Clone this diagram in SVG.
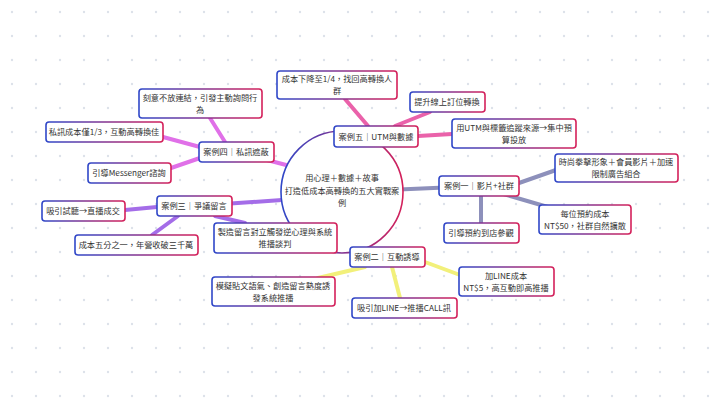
<svg xmlns="http://www.w3.org/2000/svg" width="720" height="400" viewBox="0 0 720 400">
<defs>
<pattern id="dots" width="24" height="24" patternUnits="userSpaceOnUse"><circle cx="12" cy="12" r="1.2" fill="#dde2ea"/></pattern>
<linearGradient id="bd" x1="0" y1="0" x2="1" y2="0"><stop offset="0" stop-color="#2f47c8"/><stop offset="1" stop-color="#d4205a"/></linearGradient>
<style>
.n{fill:#fff;stroke:url(#bd);stroke-width:1.6}
.t{font-family:"Noto Sans CJK TC","Noto Sans CJK SC",sans-serif;font-size:8.2px;fill:#333;text-anchor:middle}
.c{fill:none;stroke-linecap:round}
</style>
</defs>
<rect width="720" height="400" fill="#fff"/>
<rect width="720" height="400" fill="url(#dots)"/>
<g id="connectors">
<g class="c" stroke="#8d90bb" stroke-width="4"><line x1="342" y1="192" x2="479" y2="186"/><line x1="519" y1="183" x2="556" y2="170"/><line x1="500" y1="193" x2="565" y2="212"/><line x1="481" y1="196" x2="481" y2="223"/></g>
<g class="c" stroke="#ea62aa" stroke-width="4"><line x1="342" y1="192" x2="376" y2="137"/><line x1="368" y1="126" x2="345" y2="99"/><line x1="395" y1="126" x2="430" y2="112"/><line x1="418" y1="136" x2="452" y2="134"/></g>
<g class="c" stroke="#e070e8" stroke-width="4"><line x1="290" y1="166" x2="236" y2="152"/><line x1="225" y1="142" x2="210" y2="118"/><line x1="200" y1="147" x2="163" y2="137"/><line x1="200" y1="158" x2="171" y2="168"/></g>
<g class="c" stroke="#a46de8" stroke-width="4"><line x1="282" y1="200" x2="194" y2="206"/><line x1="157" y1="207" x2="125" y2="210"/><line x1="178" y1="216" x2="152" y2="235"/><line x1="215" y1="216" x2="245" y2="223"/></g>
<g class="c" stroke="#f2f07a" stroke-width="4"><line x1="365" y1="267" x2="318" y2="278"/><line x1="392" y1="267" x2="400" y2="298"/><line x1="425" y1="262" x2="460" y2="275"/></g>
</g>
<g id="center"><circle cx="342" cy="192" r="61" class="n"/>
<text class="t" x="342" y="181" font-size="9.5">用心理＋數據＋故事</text><text class="t" x="342" y="194" font-size="9.5">打造低成本高轉換的五大實戰案</text><text class="t" x="342" y="206" font-size="9.5">例</text></g>
<g id="case5"><rect class="n" x="334" y="126" width="84" height="21" rx="3"/><text class="t" x="376" y="140">案例五｜UTM與數據</text></g>
<g id="c5a"><rect class="n" x="277" y="71" width="120" height="28" rx="3"/><text class="t" x="337" y="82">成本下降至1/4，找回高轉換人</text><text class="t" x="337" y="94">群</text></g>
<g id="c5b"><rect class="n" x="410" y="92" width="75" height="20" rx="3"/><text class="t" x="447" y="105">提升線上訂位轉換</text></g>
<g id="c5c"><rect class="n" x="452" y="119" width="124" height="29" rx="3"/><text class="t" x="514" y="131">用UTM與標籤追蹤來源→集中預</text><text class="t" x="514" y="143">算投放</text></g>
<g id="case1"><rect class="n" x="439" y="176" width="80" height="20" rx="3"/><text class="t" x="479" y="189">案例一｜影片+社群</text></g>
<g id="c1a"><rect class="n" x="555" y="154" width="123" height="28" rx="3"/><text class="t" x="616" y="165">時尚拳擊形象＋會員影片＋加速</text><text class="t" x="616" y="177">限制廣告組合</text></g>
<g id="c1b"><rect class="n" x="539" y="205" width="92" height="29" rx="3"/><text class="t" x="585" y="217">每位預約成本</text><text class="t" x="585" y="229">NT$50，社群自然擴散</text></g>
<g id="c1c"><rect class="n" x="444" y="223" width="75" height="20" rx="3"/><text class="t" x="481" y="236">引導預約到店參觀</text></g>
<g id="case2"><rect class="n" x="350" y="247" width="75" height="20" rx="3"/><text class="t" x="387" y="260">案例二｜互動誘導</text></g>
<g id="c2a"><rect class="n" x="212" y="277" width="123" height="29" rx="3"/><text class="t" x="273" y="289">模擬貼文語氣、創造留言熱度誘</text><text class="t" x="273" y="301">發系統推播</text></g>
<g id="c2b"><rect class="n" x="352" y="298" width="105" height="20" rx="3"/><text class="t" x="404" y="311">吸引加LINE→推播CALL訊</text></g>
<g id="c2c"><rect class="n" x="459" y="267" width="95" height="29" rx="3"/><text class="t" x="506" y="279">加LINE成本</text><text class="t" x="506" y="291">NT$5，高互動即高推播</text></g>
<g id="case3"><rect class="n" x="157" y="196" width="75" height="20" rx="3"/><text class="t" x="194" y="209">案例三｜爭議留言</text></g>
<g id="c3a"><rect class="n" x="42" y="201" width="83" height="20" rx="3"/><text class="t" x="83" y="214">吸引試聽→直播成交</text></g>
<g id="c3b"><rect class="n" x="75" y="235" width="123" height="20" rx="3"/><text class="t" x="136" y="248">成本五分之一，年營收破三千萬</text></g>
<g id="c3c"><rect class="n" x="214" y="223" width="123" height="30" rx="3"/><text class="t" x="275" y="235">製造留言對立觸發逆心理與系統</text><text class="t" x="275" y="247">推播談判</text></g>
<g id="case4"><rect class="n" x="199" y="142" width="75" height="20" rx="3"/><text class="t" x="236" y="155">案例四｜私訊遮蔽</text></g>
<g id="c4a"><rect class="n" x="139" y="89" width="123" height="29" rx="3"/><text class="t" x="200" y="101">刻意不放連結，引發主動詢問行</text><text class="t" x="200" y="113">為</text></g>
<g id="c4b"><rect class="n" x="46" y="122" width="117" height="20" rx="3"/><text class="t" x="104" y="135">私訊成本僅1/3，互動高轉換佳</text></g>
<g id="c4c"><rect class="n" x="88" y="163" width="83" height="20" rx="3"/><text class="t" x="129" y="176">引導Messenger諮詢</text></g>
</svg>
